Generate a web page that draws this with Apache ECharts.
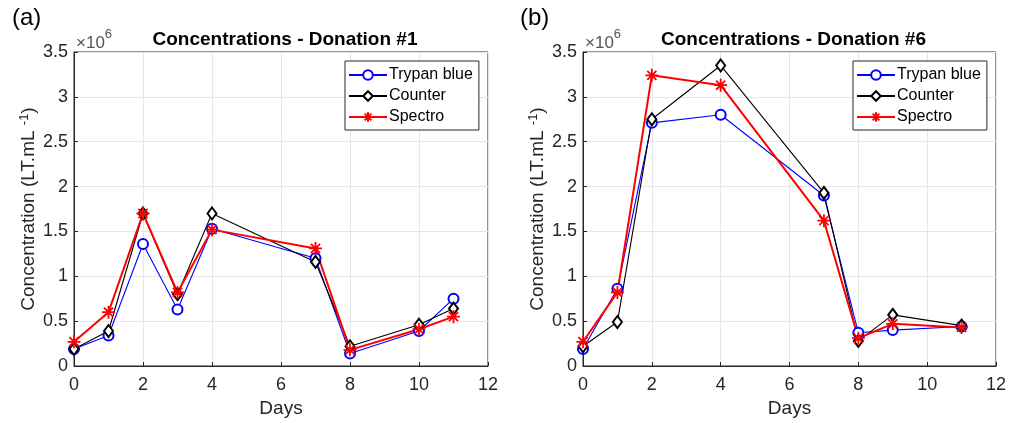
<!DOCTYPE html>
<html>
<head>
<meta charset="utf-8">
<script src="https://cdn.jsdelivr.net/npm/echarts@6/dist/echarts.min.js"></script>
<style>
  html, body { margin: 0; padding: 0; background: #fff; }
  #main { width: 1016px; height: 423px; }
</style>
</head>
<body>
<div id="main"></div>
<script>
// donation #1
var daysA = [0, 1, 2, 3, 4, 7, 8, 10, 11];
var trypanA = [0.19, 0.34, 1.36, 0.63, 1.53, 1.20, 0.14, 0.39, 0.75];
var counterA = [0.19, 0.39, 1.70, 0.80, 1.70, 1.16, 0.22, 0.46, 0.64];
var spectroA = [0.27, 0.60, 1.70, 0.82, 1.52, 1.31, 0.18, 0.41, 0.55];

// donation #6
var daysB = [0, 1, 2, 4, 7, 8, 9, 11];
var trypanB = [0.19, 0.86, 2.71, 2.80, 1.90, 0.37, 0.40, 0.44];
var counterB = [0.22, 0.49, 2.75, 3.35, 1.93, 0.28, 0.57, 0.45];
var spectroB = [0.27, 0.82, 3.24, 3.13, 1.62, 0.31, 0.47, 0.43];

var seriesNames = ['Trypan blue', 'Counter', 'Spectro'];
var titles = ['Concentrations - Donation #1', 'Concentrations - Donation #6'];
var panelLabels = ['(a)', '(b)'];

var font = 'Liberation Sans, Arial, sans-serif';
var axisColor = '#262626';
var star = 'path://M0,-10L0,10M-10,0L10,0M-7,-7L7,7M-7,7L7,-7';

var chart = echarts.init(document.getElementById('main'), null, { renderer: 'canvas' });

function pairs(xs, ys) {
  return xs.map(function (x, i) { return [x, ys[i] * 1e6]; });
}

var grids = [
  { left: 74, top: 52, width: 414, height: 315 },
  { left: 583, top: 52, width: 413, height: 315 }
];

function xAx(i) {
  return {
    gridIndex: i, type: 'value', min: 0, max: 12, interval: 2,
    name: 'Days', nameLocation: 'middle', nameGap: 33,
    nameTextStyle: { color: axisColor, fontSize: 19, fontFamily: font },
    axisLine: { show: true, onZero: false, lineStyle: { color: axisColor } },
    axisTick: { show: true, inside: true, length: 4, lineStyle: { color: axisColor } },
    axisLabel: { color: axisColor, fontSize: 18, fontFamily: font, margin: 10 },
    splitLine: { show: true, lineStyle: { color: '#e6e6e6' } }
  };
}

function yAx(i) {
  return {
    gridIndex: i, type: 'value', min: 0, max: 3.5e6, interval: 0.5e6,
    name: '{a|Concentration (LT.mL }{s|-1}{a|)}', nameLocation: 'middle', nameGap: 34,
    nameTextStyle: {
      rich: {
        a: { color: axisColor, fontSize: 19, fontFamily: font },
        s: { color: axisColor, fontSize: 13, fontFamily: font, verticalAlign: 'top', padding: [0, 0, 9, 0] }
      }
    },
    axisLine: { show: true, lineStyle: { color: axisColor } },
    axisTick: { show: true, inside: true, length: 4, lineStyle: { color: axisColor } },
    axisLabel: {
      color: axisColor, fontSize: 18, fontFamily: font, margin: 6,
      formatter: function (v) { return String(v / 1e6); }
    },
    splitLine: { show: true, lineStyle: { color: '#e6e6e6' } }
  };
}

function makeSeries(i, xs, t, c, s) {
  return [
    {
      name: seriesNames[0], type: 'line', xAxisIndex: i, yAxisIndex: i, data: pairs(xs, t),
      symbol: 'emptyCircle', symbolSize: 10, color: '#0000ff',
      lineStyle: { width: 1.1, color: '#0000ff' },
      itemStyle: { color: '#0000ff', borderColor: '#0000ff', borderWidth: 1.1 }
    },
    {
      name: seriesNames[1], type: 'line', xAxisIndex: i, yAxisIndex: i, data: pairs(xs, c),
      symbol: 'emptyDiamond', symbolSize: [9, 12], color: '#000000',
      lineStyle: { width: 1.1, color: '#000000' },
      itemStyle: { color: '#000000', borderColor: '#000000', borderWidth: 1.1 }
    },
    {
      name: seriesNames[2], type: 'line', xAxisIndex: i, yAxisIndex: i, data: pairs(xs, s),
      symbol: star, symbolSize: 13, color: '#ff0000',
      lineStyle: { width: 2, color: '#ff0000' },
      itemStyle: { color: 'none', borderColor: '#ff0000', borderWidth: 1.8 }
    }
  ];
}

var legendBase = {
  orient: 'vertical', data: seriesNames, top: 61,
  backgroundColor: '#ffffff', borderColor: axisColor, borderWidth: 1,
  borderRadius: 0, padding: [6, 6, 5, 3], itemGap: 5, itemWidth: 38, itemHeight: 12,
  textStyle: { color: '#000', fontSize: 16, fontFamily: font, padding: [0, 0, 0, -3] }
};

var option = {
  animation: false,
  backgroundColor: '#ffffff',
  grid: grids.map(function (g) {
    return Object.assign({ show: true, borderColor: axisColor, borderWidth: 1, backgroundColor: 'transparent' }, g);
  }),
  xAxis: [xAx(0), xAx(1)],
  yAxis: [yAx(0), yAx(1)],
  legend: [
    Object.assign({}, legendBase, { left: 345 }),
    Object.assign({}, legendBase, { left: 853 })
  ],
  title: [0, 1].map(function (i) {
    return {
      text: titles[i], left: grids[i].left + grids[i].width / 2 - 1, top: 25, textAlign: 'center',
      textStyle: { color: '#000', fontSize: 19, fontWeight: 'bold', fontFamily: font }
    };
  }),
  graphic: [0, 1].map(function (i) {
    return [
      {
        type: 'text', left: i === 0 ? 12 : 520, top: 6,
        style: { text: panelLabels[i], fontSize: 24, fontFamily: font, fill: '#000' }
      },
      {
        type: 'text', left: grids[i].left + 2, top: 28,
        style: {
          text: '{a|\u00d710}{s|6}',
          rich: {
            a: { fontSize: 17, fontFamily: font, fill: '#555', padding: [7, 0, 0, 0] },
            s: { fontSize: 13, fontFamily: font, fill: '#555', verticalAlign: 'top' }
          }
        }
      }
    ];
  }).reduce(function (a, b) { return a.concat(b); }, []),
  series: makeSeries(0, daysA, trypanA, counterA, spectroA)
    .concat(makeSeries(1, daysB, trypanB, counterB, spectroB))
};

chart.setOption(option);
</script>
</body>
</html>
